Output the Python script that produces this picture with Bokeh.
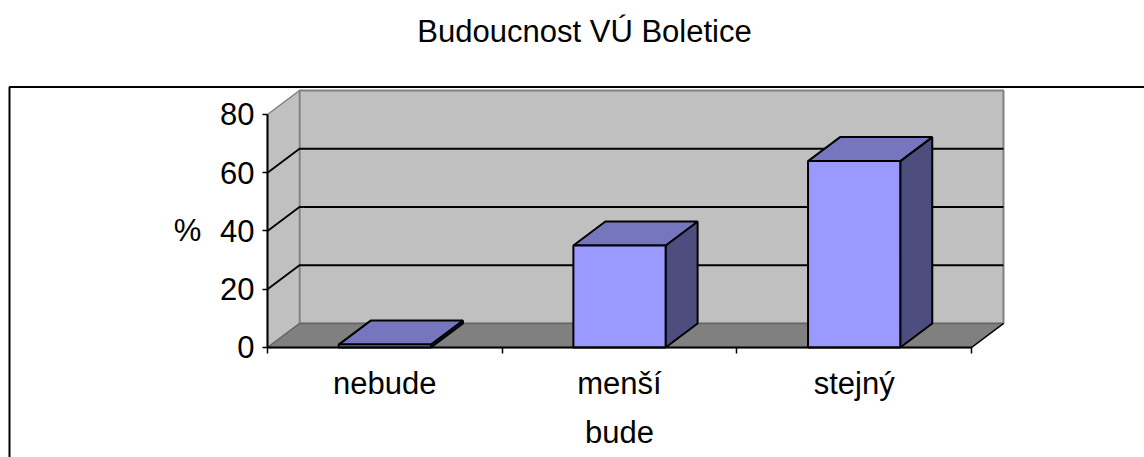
from bokeh.plotting import figure
from bokeh.embed import file_html
from bokeh.resources import INLINE
from bokeh.core.properties import value
from bokeh.models import Range1d, FixedTicker

title_text = "Budoucnost VÚ Boletice"
categories = ["nebude", "menší", "stejný"]
values = [1, 35, 64]
y_ticks = [0, 20, 40, 60, 80]
x_title = "bude"
y_title = "%"

DX, DY = 0.13636, 8.24      # oblique depth in data units
BAR_W = 0.393
N = len(categories)
YMAX = y_ticks[-1]
FONT = "Liberation Sans"
FS = "31px"
X0, X1 = -1.13777, 3.7373
Y0, Y1 = -37.77, 119.14
BOX_L, BOX_T = -1.0994, 89.44
TITLE_X, TITLE_Y = 1.351, 108.5

p = figure(width=1144, height=457, output_backend="svg", toolbar_location=None,
           x_range=Range1d(X0, X1), y_range=Range1d(Y0, Y1),
           min_border_left=0, min_border_right=0, min_border_top=0, min_border_bottom=0)
p.outline_line_color = None
p.xgrid.visible = False
p.ygrid.visible = False
p.background_fill_color = "white"

# outer chart frame (runs off the right and bottom of the picture)
p.line([BOX_L, BOX_L, X1], [Y0, BOX_T, BOX_T], line_color="black", line_width=2)

WALL = "#C0C0C0"
FLOOR = "#808080"
EDGE = "#808080"
# back wall and side wall
p.patch([DX, N + DX, N + DX, DX], [DY, DY, YMAX + DY, YMAX + DY], fill_color=WALL, line_color=EDGE, line_width=2)
p.patch([0, DX, DX, 0], [0, DY, YMAX + DY, YMAX], fill_color=WALL, line_color=EDGE, line_width=1.5)
# gridlines
for v in y_ticks[1:-1]:
    p.line([0, DX, N + DX], [v, v + DY, v + DY], line_color="black", line_width=1.8)
# floor
p.patch([0, N, N + DX, DX], [0, 0, DY, DY], fill_color=FLOOR, line_color="#666666", line_width=1.5)
p.line([N, N + DX], [0, DY], line_color="black", line_width=1.5)

# bars
for i, v in enumerate(values):
    l = i + 0.5 - BAR_W / 2
    r = i + 0.5 + BAR_W / 2
    p.patch([r, r + DX, r + DX, r], [0, DY, v + DY, v], fill_color="#4D4D80", line_color="black", line_width=2)
    p.patch([l, r, r + DX, l + DX], [v, v, v + DY, v + DY], fill_color="#7676BF", line_color="black", line_width=2)
    p.patch([l, r, r, l], [0, 0, v, v], fill_color="#9999FF", line_color="black", line_width=2)

# axes
xa = p.xaxis[0]
xa.fixed_location = 0
xa.bounds = (0, N)
xa.ticker = FixedTicker(ticks=[i + 0.5 for i in range(N)], minor_ticks=list(range(N + 1)))
xa.major_label_overrides = {i + 0.5: c for i, c in enumerate(categories)}
xa.major_tick_line_color = None
xa.minor_tick_out = 6
xa.minor_tick_in = 0
xa.minor_tick_line_color = "black"
xa.minor_tick_line_width = 1.5
xa.axis_line_color = "black"
xa.axis_line_width = 2
xa.major_label_text_font = FONT
xa.major_label_text_font_size = FS
xa.major_label_text_color = "black"
xa.major_label_standoff = 13

ya = p.yaxis[0]
ya.fixed_location = 0
ya.bounds = (0, YMAX)
ya.ticker = FixedTicker(ticks=y_ticks)
ya.major_tick_out = 5
ya.major_tick_in = 0
ya.major_tick_line_color = "black"
ya.major_tick_line_width = 1.5
ya.minor_tick_line_color = None
ya.axis_line_color = "black"
ya.axis_line_width = 2
ya.major_label_text_font = FONT
ya.major_label_text_font_size = FS
ya.major_label_text_color = "black"
ya.major_label_standoff = 8

txt = dict(text_align="center", text_baseline="middle", text_font=value(FONT),
           text_font_size=value(FS), text_color="black")
p.text(x=[N / 2], y=[0], text=[x_title], y_offset=85, **txt)
p.text(x=[0], y=[YMAX / 2], text=[y_title], x_offset=-80, **txt)
p.text(x=[TITLE_X], y=[TITLE_Y], text=[title_text], **txt)

open("out.html", "w").write(file_html(p, INLINE))
